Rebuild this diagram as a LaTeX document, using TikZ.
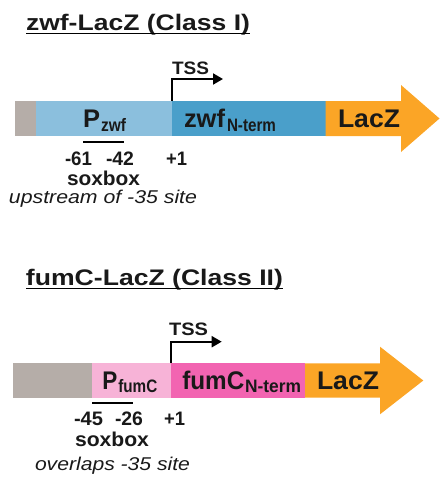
\documentclass[tikz,border=0pt]{standalone}
\usepackage{fontspec}
\setmainfont{Liberation Sans}
\usepackage{graphicx}
\usetikzlibrary{arrows.meta}
\definecolor{cgray}{HTML}{B5ADA8}
\definecolor{clblue}{HTML}{8BBFDD}
\definecolor{cdblue}{HTML}{4A9FCA}
\definecolor{corange}{HTML}{FBA526}
\definecolor{clpink}{HTML}{F7B3D7}
\definecolor{cmag}{HTML}{F264B1}
\newsavebox\fitbox
\newcommand\fitw[2]{\sbox\fitbox{#2}\pgfmathsetmacro\fitfx{#1/\the\wd\fitbox}\scalebox{\fitfx}[1]{\usebox\fitbox}}
\newcommand\bfs[1]{\bfseries\fontsize{#1}{#1}\selectfont}
\newcommand\itf[1]{\itshape\fontsize{#1}{#1}\selectfont}
\tikzset{
  lab/.style={anchor=base west, inner sep=0pt, outer sep=0pt, text=black!90},
  ul/.style={line width=1.6pt},
  tss/.style={line width=2pt, -{Triangle[length=10pt,width=11pt]}},
  sox/.style={line width=2pt},
}
\begin{document}
\begin{tikzpicture}[x=1pt,y=-1pt]
\useasboundingbox (0,0) rectangle (440,477);
% ---------- Class I ----------
\node[lab,font=\bfs{22.5}] (t1) at (26,30) {\fitw{224}{zwf-LacZ (Class I)}};
\draw[ul] ([yshift=-3.5pt]t1.base west) -- ([yshift=-3.5pt]t1.base east);
\fill[cgray] (14.7,101) rectangle (36,136);
\fill[clblue] (36,101) rectangle (171.7,136);
\fill[cdblue] (171.7,101) rectangle (325.7,136);
\fill[corange] (325.7,101) -- (401,101) -- (401,85) -- (439.5,118.5) -- (401,152) -- (401,136) -- (325.7,136) -- cycle;
\coordinate (s1) at (171.7,101);
\coordinate (c1) at (171.7,79);
\coordinate (e1) at (223,79);
\draw[tss] (s1) -- (c1) -- (e1);
\node[lab,font=\bfs{18}] (tss1) at (172,74) {\fitw{37}{TSS}};
\node[lab,font=\bfs{25.5}] (p1) at (83,127.5) {\fitw{17}{P}};
\node[lab,font=\bfs{18}] (p1s) at (101,131) {\fitw{25}{zwf}};
\node[lab,font=\bfs{25.5}] (g1) at (184,127.5) {\fitw{41}{zwf}};
\node[lab,font=\bfs{18}] (g1s) at (227,131) {\fitw{49}{N-term}};
\node[lab,font=\bfs{25.5}] (l1) at (338,127.5) {\fitw{62}{LacZ}};
\coordinate (x1a) at (83,141.7);
\coordinate (x1b) at (124,141.7);
\draw[sox] (x1a) -- (x1b);
\node[lab,font=\bfs{19.5}] (n61) at (65,165) {\fitw{27}{-61}};
\node[lab,font=\bfs{19.5}] (n42) at (106,165) {\fitw{28}{-42}};
\node[lab,font=\bfs{19.5}] (p1a) at (166,165) {\fitw{21}{+1}};
\node[lab,font=\bfs{20}] (sb1) at (67,185.5) {\fitw{73}{soxbox}};
\node[lab,font=\itf{18.5}] (u1) at (9,203.5) {\fitw{188}{upstream of -35 site}};
% ---------- Class II ----------
\node[lab,font=\bfs{22.5}] (t2) at (26,285) {\fitw{257}{fumC-LacZ (Class II)}};
\draw[ul] ([yshift=-3.5pt]t2.base west) -- ([yshift=-3.5pt]t2.base east);
\fill[cgray] (12.7,363.3) rectangle (91.7,397.7);
\fill[clpink] (91.7,363.3) rectangle (170.7,397.7);
\fill[cmag] (170.7,363.3) rectangle (305,397.7);
\fill[corange] (305,363.3) -- (380,363.3) -- (380,346.7) -- (423.3,380.5) -- (380,414.3) -- (380,397.7) -- (305,397.7) -- cycle;
\coordinate (s2) at (170.7,363.3);
\coordinate (c2) at (170.7,341.7);
\coordinate (e2) at (221.7,341.7);
\draw[tss] (s2) -- (c2) -- (e2);
\node[lab,font=\bfs{18}] (tss2) at (169,335) {\fitw{39}{TSS}};
\node[lab,font=\bfs{25.5}] (p2) at (102.3,389) {\fitw{15}{P}};
\node[lab,font=\bfs{18}] (p2s) at (118.3,392.5) {\fitw{39}{fumC}};
\node[lab,font=\bfs{25.5}] (g2) at (182.3,389) {\fitw{62}{fumC}};
\node[lab,font=\bfs{18}] (g2s) at (245,392.7) {\fitw{56}{N-term}};
\node[lab,font=\bfs{25.5}] (l2) at (317,389) {\fitw{62}{LacZ}};
\coordinate (x2a) at (92,403.3);
\coordinate (x2b) at (133,403.3);
\draw[sox] (x2a) -- (x2b);
\node[lab,font=\bfs{19.5}] (n45) at (74,425) {\fitw{29}{-45}};
\node[lab,font=\bfs{19.5}] (n26) at (115,425) {\fitw{28}{-26}};
\node[lab,font=\bfs{19.5}] (p2a) at (164,425) {\fitw{21}{+1}};
\node[lab,font=\bfs{20}] (sb2) at (75,446.5) {\fitw{74}{soxbox}};
\node[lab,font=\itf{18.5}] (o2) at (35,470) {\fitw{155}{overlaps -35 site}};
\end{tikzpicture}
\end{document}
